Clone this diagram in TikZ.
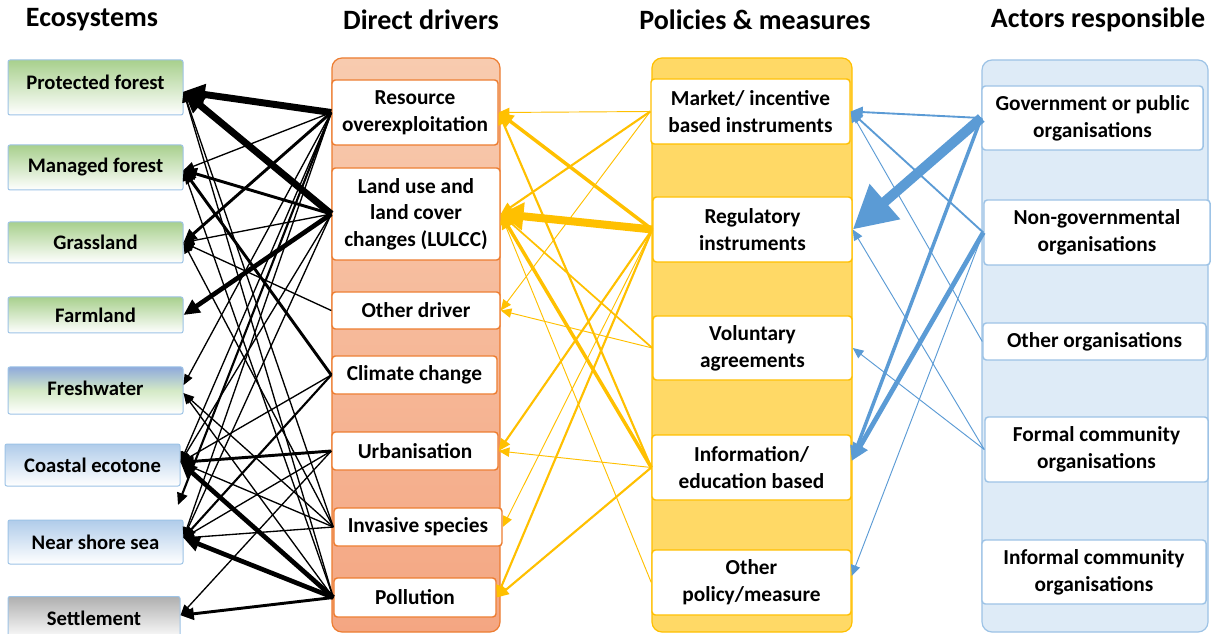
\documentclass[tikz,border=0pt]{standalone}
\usepackage{fontspec}
\setmainfont{Carlito}
\usetikzlibrary{arrows.meta}
\definecolor{ecoborder}{RGB}{157,195,230}
\definecolor{ecogreen}{RGB}{168,208,141}
\definecolor{ecoblue}{RGB}{176,204,234}
\definecolor{fwblue}{RGB}{143,170,220}
\definecolor{fwgreen}{RGB}{212,234,198}
\definecolor{ecogrey}{RGB}{175,175,175}
\definecolor{drvfillA}{RGB}{248,203,175}
\definecolor{drvfillB}{RGB}{244,166,130}
\definecolor{drvborder}{RGB}{237,125,49}
\definecolor{polfill}{RGB}{255,217,102}
\definecolor{polborder}{RGB}{255,192,0}
\definecolor{actfill}{RGB}{222,235,247}
\definecolor{actborder}{RGB}{157,195,230}
\definecolor{blueline}{RGB}{91,155,213}
\definecolor{yelline}{RGB}{255,192,0}
\newcommand\ecofont{\fontsize{15.5}{20}\selectfont\bfseries}
\newcommand\bxfont{\fontsize{16}{20}\selectfont\bfseries}
\newcommand\ttlfont{\fontsize{21}{25}\selectfont\bfseries}
\tikzset{
  sz/.style 2 args={minimum width=#1*0.75pt, minimum height=#2*0.75pt},
  ecobox/.style={draw=ecoborder, line width=0.75pt, rounded corners=1.5pt, font=\ecofont, align=center, inner sep=0pt},
  drvbox/.style={draw=drvborder, fill=white, line width=1.1pt, rounded corners=2.5pt, font=\bxfont, align=center, inner sep=0pt},
  polbox/.style={draw=polborder, fill=white, line width=1.1pt, rounded corners=2.5pt, font=\bxfont, align=center, inner sep=0pt},
  actbox/.style={draw=actborder, fill=white, line width=1.1pt, rounded corners=2.5pt, font=\bxfont, align=center, inner sep=0pt},
  ttl/.style={font=\ttlfont, inner sep=0pt},
  arr/.style n args={3}{line width=#1, -{Triangle[length=#2,width=#3]}},
  bthin/.style={black, arr={1pt}{8pt}{6.5pt}},
  bmed/.style={black, arr={1.6pt}{9pt}{8pt}},
  bthick/.style={black, arr={2.2pt}{10pt}{9pt}},
  bheavy/.style={black, arr={3.5pt}{12pt}{11pt}},
  bvheavy/.style={black, arr={5.2pt}{16pt}{15pt}},
  ythin/.style={yelline, arr={0.7pt}{8pt}{7pt}},
  ymed/.style={yelline, arr={1.6pt}{9pt}{8pt}},
  ythick/.style={yelline, arr={2.6pt}{11pt}{10pt}},
  uthin/.style={blueline, arr={0.7pt}{8pt}{7pt}},
  umed/.style={blueline, arr={1.4pt}{9pt}{8pt}},
  uthick/.style={blueline, arr={2.6pt}{11pt}{10pt}},
  uheavy/.style={blueline, arr={3.6pt}{13pt}{12pt}},
}
\begin{document}
\begin{tikzpicture}[x=0.75pt,y=-0.75pt]
\useasboundingbox (0,0) rectangle (1213,634);
\fill[white] (0,0) rectangle (1213,634);

% titles
\node[ttl] (t1) at (92,20) {Ecosystems};
\node[ttl] (t2) at (421,20) {Direct drivers};
\node[ttl] (t3) at (755,20) {Policies \& measures};
\node[ttl] (t4) at (1098,20) {Actors responsible};

% column backgrounds
\draw[drvborder, line width=0.9pt, rounded corners=7.5pt, top color=drvfillA, bottom color=drvfillB] (332,58) rectangle (500,632);
\draw[polborder, line width=0.9pt, rounded corners=7.5pt, fill=polfill] (652,58) rectangle (852,632);
\draw[actborder, line width=0.9pt, rounded corners=7.5pt, fill=actfill] (982,60) rectangle (1208,632);

% ecosystems
\node[ecobox, sz={175}{55}, top color=ecogreen, bottom color=white] (PF) at (95.5,87.5) {\raisebox{0pt}[\height][\dimexpr\depth+8pt]{Protected forest}};
\node[ecobox, sz={175}{45}, top color=ecogreen, bottom color=white] (MF) at (95.5,167.5) {Managed forest};
\node[ecobox, sz={175}{41}, top color=ecogreen, bottom color=white] (G) at (95.5,242.5) {Grassland};
\node[ecobox, sz={175}{36}, top color=ecogreen, bottom color=white] (F) at (95.5,315) {Farmland};
\node[ecobox, sz={175}{47}, top color=fwblue, bottom color=white, middle color=fwgreen] (FW) at (95.5,390.5) {\raisebox{0pt}[\height][\dimexpr\depth+4pt]{Freshwater}};
\node[ecobox, sz={175}{42}, top color=ecoblue, bottom color=white] (CE) at (92.5,465) {Coastal ecotone};
\node[ecobox, sz={175}{44}, top color=ecoblue, bottom color=white] (NS) at (95.5,542) {Near shore sea};
\node[ecobox, sz={172}{43}, top color=ecogrey, bottom color=white] (S) at (94,618) {Settlement};
\coordinate (X) at (178,505);

% drivers
\node[drvbox, sz={166}{65}] (R) at (415,112.5) {Resource\\overexploitation};
\node[drvbox, sz={168}{92}] (L) at (416,214) {Land use and\\land cover\\changes (LULCC)};
\node[drvbox, sz={168}{37}] (O) at (416,310.5) {Other driver};
\node[drvbox, sz={165}{38}] (C) at (414.5,375) {Climate change};
\node[drvbox, sz={166}{38}] (U) at (415,451) {Urbanisation};
\node[drvbox, sz={168}{38}] (Inv) at (418,527) {Invasive species};
\node[drvbox, sz={162}{39}] (P) at (415,597.5) {Pollution};

% policies
\node[polbox, sz={199}{65}] (M) at (750.5,111.5) {Market/ incentive\\based instruments};
\node[polbox, sz={199}{65}] (Rg) at (752.5,229.5) {Regulatory\\instruments};
\node[polbox, sz={199}{64}] (V) at (752.5,348) {Voluntary\\agreements};
\node[polbox, sz={199}{65}] (I) at (751.5,467.5) {Information/\\education based};
\node[polbox, sz={199}{65}] (OP) at (751.5,582.5) {Other\\policy/measure};

% actors
\node[actbox, sz={221}{64}] (Gov) at (1092.5,118) {Government or public\\organisations};
\node[actbox, sz={226}{65}] (NGO) at (1097,232.5) {Non-governmental\\organisations};
\node[actbox, sz={223}{37}] (Oth) at (1094.5,341.5) {Other organisations};
\node[actbox, sz={223}{65}] (Fo) at (1096.5,449.5) {Formal community\\organisations};
\node[actbox, sz={224}{64}] (In) at (1094,572) {Informal community\\organisations};

% black connectors: drivers -> ecosystems
\draw[bvheavy] (R.west) -- ([yshift=-3pt]PF.east);
\draw[bvheavy] (L.west) -- ([yshift=-3pt]PF.east);
\draw[bthin] (Inv.west) -- ([yshift=-3pt]PF.east);
\draw[bthin] (P.west) -- ([yshift=-3pt]PF.east);
\draw[bthin] (R.west) -- ([yshift=-2pt]MF.east);
\draw[bthick] (L.west) -- ([yshift=-2pt]MF.east);
\draw[bthick] (C.west) -- ([yshift=-2pt]MF.east);
\draw[bthin] (P.west) -- ([yshift=-2pt]MF.east);
\draw[bthick] (R.west) -- (G.east);
\draw[bthin] (L.west) -- (G.east);
\draw[bthin] (O.west) -- (G.east);
\draw[bthin] (Inv.west) -- (G.east);
\draw[bheavy] (L.west) -- (F.east);
\draw[bthin] (R.west) -- ([yshift=4pt]FW.east);
\draw[bthin] (Inv.west) -- ([yshift=-2pt]FW.east);
\draw[bthin] (P.west) -- ([yshift=-2pt]FW.east);
\draw[bthin] (R.west) -- ([yshift=2pt]CE.east);
\draw[bthin] (L.west) -- ([yshift=2pt]CE.east);
\draw[bthin] (C.west) -- ([yshift=2pt]CE.east);
\draw[bthick] (U.west) -- ([yshift=2pt]CE.east);
\draw[bthin] (Inv.west) -- ([yshift=2pt]CE.east);
\draw[bheavy] (P.west) -- ([yshift=2pt]CE.east);
\draw[bmed] (R.west) -- (X);
\draw[bthin] (R.west) -- ([yshift=3pt]NS.east);
\draw[bthin] (L.west) -- ([yshift=3pt]NS.east);
\draw[bmed] (C.west) -- ([yshift=3pt]NS.east);
\draw[bthin] (U.west) -- ([yshift=3pt]NS.east);
\draw[bthin] (Inv.west) -- ([yshift=3pt]NS.east);
\draw[bheavy] (P.west) -- ([yshift=3pt]NS.east);
\draw[bthin] (U.west) -- ([yshift=2pt]S.east);
\draw[bthick] (P.west) -- ([yshift=2pt]S.east);

% yellow connectors: policies -> drivers
\draw[ythin] (M.west) -- (R.east);
\draw[ythick] (Rg.west) -- (R.east);
\draw[ymed] (I.west) -- (R.east);
\draw[ymed] (M.west) -- (L.east);
\draw[yelline, arr={6pt}{17pt}{20pt}] (Rg.west) -- (L.east);
\draw[yelline, arr={1.3pt}{9pt}{8pt}] (V.west) -- (L.east);
\draw[ythick] (I.west) -- (L.east);
\draw[ythin] (OP.west) -- (L.east);
\draw[ythin] (M.west) -- (O.east);
\draw[ythin] (V.west) -- (O.east);
\draw[ymed] (Rg.west) -- (U.east);
\draw[ythin] (I.west) -- (U.east);
\draw[ythin] (Rg.west) -- (Inv.east);
\draw[ymed] (Rg.west) -- (P.east);
\draw[ymed] (I.west) -- (P.east);

% blue connectors: actors -> policies
\draw[umed] (Gov.west) -- (M.east);
\draw[blueline, arr={7.5pt}{32pt}{33pt}] (Gov.west) -- (Rg.east);
\draw[uthick] (Gov.west) -- ([yshift=5pt]I.east);
\draw[umed] (NGO.west) -- (M.east);
\draw[uheavy] (NGO.west) -- ([yshift=5pt]I.east);
\draw[uthin] (NGO.west) -- ([yshift=5pt]OP.east);
\draw[uthin] (Oth.west) -- (M.east);
\draw[uthin] (Fo.west) -- (Rg.east);
\draw[uthin] (Fo.west) -- (V.east);
\end{tikzpicture}
\end{document}
